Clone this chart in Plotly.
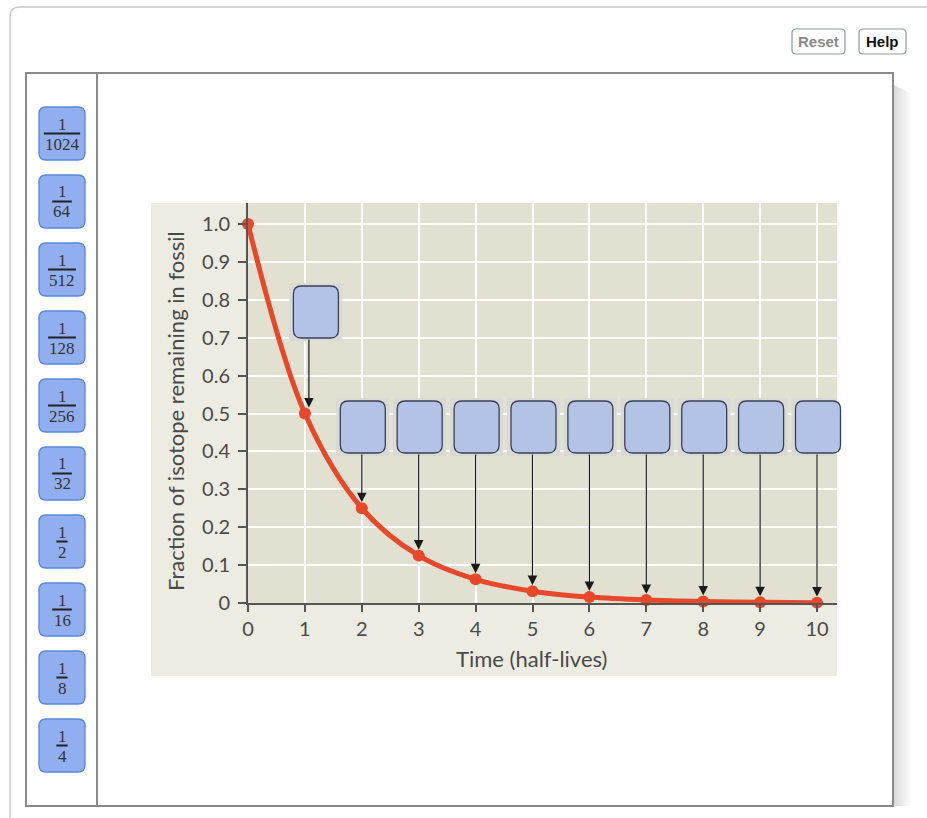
import plotly.graph_objects as go

W, H = 927, 818

# ---------------- data ----------------
half_lives = [0, 1, 2, 3, 4, 5, 6, 7, 8, 9, 10]
fraction = [1.0, 0.5, 0.25, 0.125, 0.0625, 0.03125, 0.015625, 0.0078125,
            0.00390625, 0.001953125, 0.0009765625]
y_ticks = [0, 0.1, 0.2, 0.3, 0.4, 0.5, 0.6, 0.7, 0.8, 0.9, 1.0]
y_ticklabels = ["0", "0.1", "0.2", "0.3", "0.4", "0.5", "0.6", "0.7", "0.8", "0.9", "1.0"]
x_ticks = [0, 1, 2, 3, 4, 5, 6, 7, 8, 9, 10]
tile_denoms = ["1024", "64", "512", "128", "256", "32", "2", "16", "8", "4"]
drop_targets = [1, 2, 3, 4, 5, 6, 7, 8, 9, 10]
y_title = "Fraction of isotope remaining in fossil"
x_title = "Time (half-lives)"

# ---------------- geometry (pixels) ----------------
PX0, PX1 = 248, 837          # plot area left/right
PY0, PY1 = 203, 603          # plot area top / y=0
UX = (817 - 248) / 10.0      # px per half-life
UY = (603 - 224) / 1.0       # px per unit fraction
XMAX = (PX1 - PX0) / UX
YMAX = (PY1 - PY0) / UY


def X(p):
    return p / W


def Y(p):
    return 1 - p / H


def dx(v):  # data x -> pixel
    return PX0 + v * UX


def rrect(x0, y0, x1, y1, r):
    return (f"M {X(x0 + r)},{Y(y0)} L {X(x1 - r)},{Y(y0)} "
            f"Q {X(x1)},{Y(y0)} {X(x1)},{Y(y0 + r)} L {X(x1)},{Y(y1 - r)} "
            f"Q {X(x1)},{Y(y1)} {X(x1 - r)},{Y(y1)} L {X(x0 + r)},{Y(y1)} "
            f"Q {X(x0)},{Y(y1)} {X(x0)},{Y(y1 - r)} L {X(x0)},{Y(y0 + r)} "
            f"Q {X(x0)},{Y(y0)} {X(x0 + r)},{Y(y0)} Z")


def label(x, y, text, font, **kw):
    d = dict(x=X(x), y=Y(y), xref="paper", yref="paper", text=text, showarrow=False,
             xanchor="center", yanchor="middle", font=font)
    d.update(kw)
    return d


shapes = []
annotations = []

# outer frame (rounded, light gray)
shapes.append(dict(type="path", xref="paper", yref="paper",
                   path=(f"M {X(10)},{Y(818)} L {X(10)},{Y(17)} Q {X(10)},{Y(7)} {X(20)},{Y(7)} "
                         f"L {X(927)},{Y(7)}"),
                   line=dict(color="#c9c9c9", width=1.5), layer="below"))

# buttons
shapes.append(dict(type="path", xref="paper", yref="paper", path=rrect(792, 29, 845, 54, 4),
                   line=dict(color="#8f9a9c", width=1.2), fillcolor="white", layer="below"))
shapes.append(dict(type="path", xref="paper", yref="paper", path=rrect(859, 29, 906, 54, 4),
                   line=dict(color="#8f9a9c", width=1.2), fillcolor="white", layer="below"))
annotations.append(label(818.5, 42, "<b>Reset</b>", dict(family="Liberation Sans", size=15, color="#8a8a8a")))
annotations.append(label(882.5, 42, "<b>Help</b>", dict(family="Liberation Sans", size=15, color="#111")))

# panel shadow
for i in range(9):
    shapes.append(dict(type="rect", xref="paper", yref="paper",
                       x0=X(893 + i * 2), x1=X(895 + i * 2), y0=Y(806), y1=Y(85 + i),
                       fillcolor="#808080", opacity=0.30 * (1 - i / 9), line=dict(width=0),
                       layer="below"))

# inner panel
shapes.append(dict(type="rect", xref="paper", yref="paper", x0=X(26), x1=X(893), y0=Y(806), y1=Y(73),
                   fillcolor="white", line=dict(color="#8a8a8a", width=2), layer="below"))
shapes.append(dict(type="line", xref="paper", yref="paper", x0=X(97), x1=X(97), y0=Y(806), y1=Y(73),
                   line=dict(color="#8a8a8a", width=2), layer="below"))

# figure backgrounds
shapes.append(dict(type="rect", xref="paper", yref="paper", x0=X(151), x1=X(837), y0=Y(676), y1=Y(203),
                   fillcolor="#edece3", line=dict(width=0), layer="below"))
shapes.append(dict(type="rect", xref="paper", yref="paper", x0=X(PX0), x1=X(PX1), y0=Y(PY1), y1=Y(PY0),
                   fillcolor="#e1e0d1", line=dict(width=0), layer="below"))

# left answer tiles
tile_font = dict(family="Liberation Serif", size=17, color="#333")
for i, d in enumerate(tile_denoms):
    top = 107 + 68 * i
    shapes.append(dict(type="path", xref="paper", yref="paper", path=rrect(39, top, 85, top + 53, 7),
                       fillcolor="#90aef0", line=dict(color="#5a86d4", width=1.3), layer="above"))
    bw = 8.3 * len(d) + 3
    shapes.append(dict(type="line", xref="paper", yref="paper", x0=X(62 - bw / 2), x1=X(62 + bw / 2),
                       y0=Y(top + 26.5), y1=Y(top + 26.5), line=dict(color="#222", width=2), layer="above"))
    annotations.append(label(62, top + 17, "1", tile_font))
    annotations.append(label(62, top + 37, d, tile_font))

# drop target boxes and arrows
for n in drop_targets:
    if n == 1:
        cx, top, bot, ax_off = dx(n) + 11, 286, 338, 4
    else:
        cx, top, bot, ax_off = dx(n) + 1, 401, 453, 0
    x0, x1 = cx - 22.5, cx + 22.5
    shapes.append(dict(type="rect", xref="paper", yref="paper", x0=X(x0 - 4), x1=X(min(x1 + 4, PX1)),
                       y0=Y(bot + 3), y1=Y(top - 3), fillcolor="#d9d9d6", line=dict(width=0), layer="above"))
    shapes.append(dict(type="path", xref="paper", yref="paper", path=rrect(x0, top, x1, bot, 8),
                       fillcolor="#b3c3e5", line=dict(color="#3a3f55", width=1.3), layer="above"))
    annotations.append(dict(x=n, y=fraction[n], xref="x", yref="y", ax=n, ay=(PY1 - bot) / UY,
                            axref="x", ayref="y", text="", showarrow=True, arrowhead=2, arrowsize=1.6,
                            arrowwidth=1.2, arrowcolor="#1a1a1a", standoff=6, xshift=ax_off))

# axis titles
title_font = dict(family="Lato", size=22, color="#4a4a4a")
annotations.append(label(176, 411, y_title, title_font, textangle=-90))
annotations.append(label(531, 658, x_title, title_font))

fig = go.Figure()
fig.add_trace(go.Scatter(x=half_lives, y=fraction, mode="lines+markers",
                         line=dict(color="#e8482a", width=5, shape="spline", smoothing=1),
                         marker=dict(color="#e8482a", size=12), hoverinfo="skip", cliponaxis=False))

tickfont = dict(family="Lato", size=20, color="#4a4a4a")
fig.update_layout(
    width=W, height=H, autosize=False, margin=dict(l=0, r=0, t=0, b=0, pad=0),
    paper_bgcolor="white", plot_bgcolor="rgba(0,0,0,0)", showlegend=False,
    shapes=shapes, annotations=annotations,
    xaxis=dict(domain=[X(PX0), X(PX1)], range=[0, XMAX], tickvals=x_ticks, ticks="outside",
               ticklen=7, tickwidth=1.5, tickcolor="#555", showline=True, linecolor="#555", linewidth=2,
               showgrid=True, gridcolor="white", gridwidth=2, zeroline=False, tickfont=tickfont,
               fixedrange=True, ticklabelstandoff=0, automargin=False),
    yaxis=dict(domain=[Y(PY1), Y(PY0)], range=[0, YMAX], tickvals=y_ticks, ticktext=y_ticklabels,
               ticks="outside", ticklen=8, tickwidth=1.5, tickcolor="#555", showline=True,
               linecolor="#555", linewidth=2, showgrid=True, gridcolor="white", gridwidth=2,
               zeroline=False, tickfont=tickfont, fixedrange=True, ticklabelstandoff=4, automargin=False),
)

fig.write_html("out.html", config={"displayModeBar": False},
               post_script="document.body.style.margin='0px';")
